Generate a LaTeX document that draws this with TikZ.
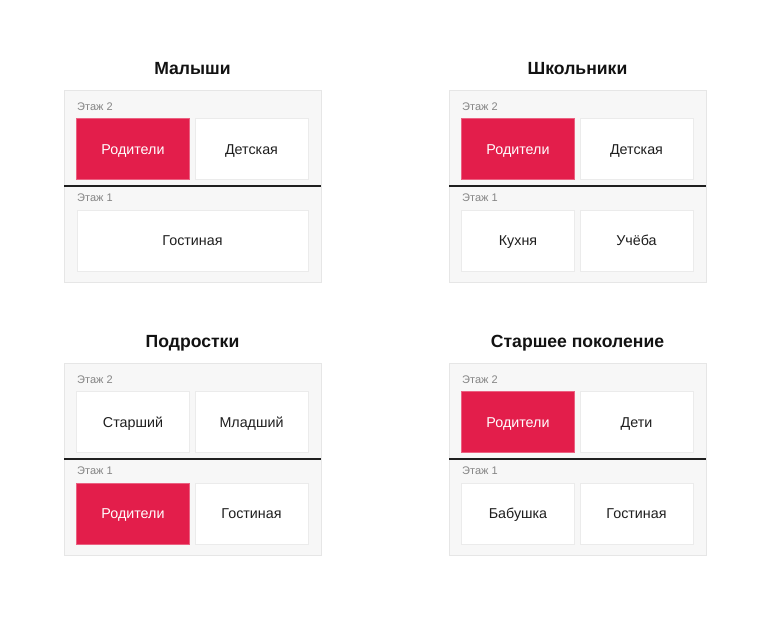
\documentclass[tikz,border=0pt]{standalone}
\usepackage{fontspec}
\setmainfont{Liberation Sans}
\definecolor{panelbg}{HTML}{F7F7F7}
\definecolor{panelline}{HTML}{E6E6E6}
\definecolor{roomline}{HTML}{EBEBEB}
\definecolor{crimson}{HTML}{E31E4B}
\definecolor{labelgray}{HTML}{858585}
\definecolor{textdark}{HTML}{1E1E1E}
\tikzset{
  panel/.style={draw=panelline, fill=panelbg, line width=1pt, rectangle, inner sep=0pt,
    minimum width=257pt, minimum height=192pt, anchor=north west},
  room/.style={draw=roomline, fill=white, line width=1pt, rectangle, inner sep=0pt,
    minimum width=113pt, minimum height=61pt, text=textdark,
    text height=10pt, text depth=0pt, font=\fontsize{14.3}{16}\selectfont},
  wideroom/.style={room, minimum width=231pt},
  redroom/.style={room, fill=crimson, draw=crimson!70!white, text=white},
  floorlabel/.style={anchor=west, inner sep=0pt, text=labelgray, font=\fontsize{11}{13}\selectfont},
  paneltitle/.style={inner sep=0pt, text=black!93, text height=12.5pt, text depth=0pt,
    font=\bfseries\fontsize{17.6}{20}\selectfont},
  divider/.style={draw=black!88, line width=1.6pt}
}
\begin{document}
\begin{tikzpicture}[x=1pt,y=-1pt]
\useasboundingbox[fill=white] (0,0) rectangle (770,626);

% ---------- Малыши ----------
\begin{scope}[shift={(64,90)}]
\node[panel] (p1) at (0,0) {};
\node[paneltitle] (t1) at (128.5,-22) {Малыши};
\node[floorlabel] (p1f2) at (13,17) {Этаж 2};
\node[redroom] (p1a) at (69,59) {Родители};
\node[room] (p1b) at (187.5,59) {Детская};
\coordinate (p1dl) at (0,96);
\coordinate (p1dr) at (257,96);
\draw[divider] (p1dl) -- (p1dr);
\node[floorlabel] (p1f1) at (13,108) {Этаж 1};
\node[wideroom] (p1c) at (128.5,150.5) {Гостиная};
\end{scope}

% ---------- Школьники ----------
\begin{scope}[shift={(449,90)}]
\node[panel] (p2) at (0,0) {};
\node[paneltitle] (t2) at (128.5,-22) {Школьники};
\node[floorlabel] (p2f2) at (13,17) {Этаж 2};
\node[redroom] (p2a) at (69,59) {Родители};
\node[room] (p2b) at (187.5,59) {Детская};
\coordinate (p2dl) at (0,96);
\coordinate (p2dr) at (257,96);
\draw[divider] (p2dl) -- (p2dr);
\node[floorlabel] (p2f1) at (13,108) {Этаж 1};
\node[room] (p2c) at (69,150.5) {Кухня};
\node[room] (p2d) at (187.5,150.5) {Учёба};
\end{scope}

% ---------- Подростки ----------
\begin{scope}[shift={(64,363)}]
\node[panel] (p3) at (0,0) {};
\node[paneltitle] (t3) at (128.5,-22) {Подростки};
\node[floorlabel] (p3f2) at (13,17) {Этаж 2};
\node[room] (p3a) at (69,59) {Старший};
\node[room] (p3b) at (187.5,59) {Младший};
\coordinate (p3dl) at (0,96);
\coordinate (p3dr) at (257,96);
\draw[divider] (p3dl) -- (p3dr);
\node[floorlabel] (p3f1) at (13,108) {Этаж 1};
\node[redroom] (p3c) at (69,150.5) {Родители};
\node[room] (p3d) at (187.5,150.5) {Гостиная};
\end{scope}

% ---------- Старшее поколение ----------
\begin{scope}[shift={(449,363)}]
\node[panel] (p4) at (0,0) {};
\node[paneltitle] (t4) at (128.5,-22) {Старшее поколение};
\node[floorlabel] (p4f2) at (13,17) {Этаж 2};
\node[redroom] (p4a) at (69,59) {Родители};
\node[room] (p4b) at (187.5,59) {Дети};
\coordinate (p4dl) at (0,96);
\coordinate (p4dr) at (257,96);
\draw[divider] (p4dl) -- (p4dr);
\node[floorlabel] (p4f1) at (13,108) {Этаж 1};
\node[room] (p4c) at (69,150.5) {Бабушка};
\node[room] (p4d) at (187.5,150.5) {Гостиная};
\end{scope}
\end{tikzpicture}
\end{document}
